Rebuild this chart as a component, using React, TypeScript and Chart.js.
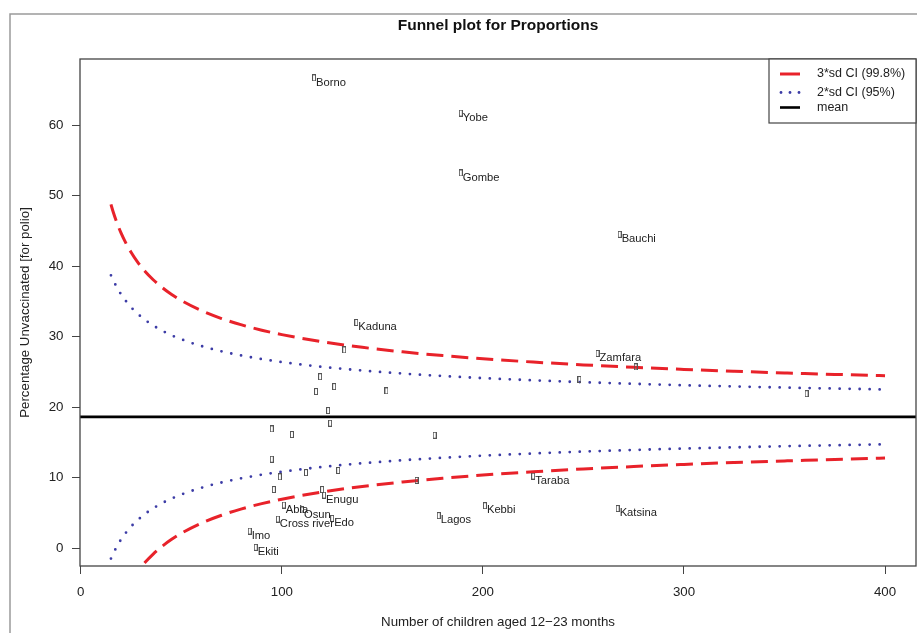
import { useEffect, useRef } from "react";
import { Chart, registerables } from "chart.js";

Chart.register(...registerables);

// ---- data ----
const stateNames = [
  "Borno", "Yobe", "Gombe", "Bauchi", "Kaduna", "Zamfara", "Taraba", "Katsina",
  "Kebbi", "Lagos", "Enugu", "Abia", "Osun", "Edo", "Cross river", "Imo", "Ekiti",
  "", "", "", "", "", "", "", "", "", "", "", "", "", "", "", "", "", "", "", "",
];
const childrenCounts = [
  116, 189, 189, 268, 137, 257, 225, 267,
  201, 178, 121, 101, 110, 125, 98, 84, 87,
  276, 248, 361, 131, 119, 126, 117, 152, 123, 124, 95, 105, 176, 95, 99, 112, 128, 96, 120, 167,
];
const unvaccinatedPct = [
  66.7, 61.7, 53.2, 44.5, 32.0, 27.6, 10.2, 5.6,
  6.0, 4.6, 7.5, 6.1, 5.4, 4.2, 4.1, 2.4, 0.1,
  25.7, 23.9, 21.9, 28.1, 24.3, 22.9, 22.2, 22.3, 19.5, 17.7, 16.9, 16.1, 16.0, 12.6, 10.1, 10.7, 11.0, 8.3, 8.3, 9.6,
];

const meanPct = 18.6;

const curveN = [15, 16, 18, 20, 22, 25, 28, 32, 36, 40, 45, 50, 60, 70, 80, 90, 100, 120, 140, 160, 180, 200, 225, 250, 275, 300, 325, 350, 375, 400];
const upper3sd = [48.74, 47.78, 46.11, 44.70, 43.49, 41.95, 40.66, 39.23, 38.06, 37.06, 36.00, 35.11, 33.67, 32.55, 31.65, 30.90, 30.27, 29.26, 28.47, 27.83, 27.30, 26.85, 26.38, 25.98, 25.64, 25.34, 25.07, 24.84, 24.63, 24.44];
const lower3sd = [-11.54, -10.58, -8.91, -7.50, -6.29, -4.75, -3.46, -2.03, -0.86, 0.14, 1.20, 2.09, 3.53, 4.65, 5.55, 6.30, 6.93, 7.94, 8.73, 9.37, 9.90, 10.35, 10.82, 11.22, 11.56, 11.86, 12.13, 12.36, 12.57, 12.76];
const upper2sd = [38.69, 38.06, 36.94, 36.00, 35.19, 34.16, 33.31, 32.36, 31.57, 30.90, 30.20, 29.61, 28.65, 27.90, 27.30, 26.80, 26.38, 25.70, 25.18, 24.75, 24.40, 24.10, 23.79, 23.52, 23.29, 23.09, 22.92, 22.76, 22.62, 22.49];
const lower2sd = [-1.49, -0.86, 0.26, 1.20, 2.01, 3.04, 3.89, 4.84, 5.63, 6.30, 7.00, 7.59, 8.55, 9.30, 9.90, 10.40, 10.82, 11.50, 12.02, 12.45, 12.80, 13.10, 13.41, 13.68, 13.91, 14.11, 14.28, 14.44, 14.58, 14.71];

const xTicks = [0, 100, 200, 300, 400];
const yTicks = [0, 10, 20, 30, 40, 50, 60];
const xLimits = [-0.4, 415.4];
const yLimits = [-2.55, 69.37];

const legendLabels = ["3*sd CI (99.8%)", "2*sd CI (95%)", "mean"];
const titleText = "Funnel plot for Proportions";
const xTitle = "Number of children aged 12\u221223 months";
const yTitle = "Percentage Unvaccinated [for polio]";

const FONT = '"Liberation Sans", Arial, Helvetica, sans-serif';
const RED = "#e8222a";
const BLUE = "#3c3ca6";

export default function App() {
  const ref = useRef<HTMLCanvasElement>(null);

  useEffect(() => {
    if (!ref.current) return;

    const box = document.createElement("canvas");
    box.width = 4;
    box.height = 7;
    const bctx = box.getContext("2d")!;
    bctx.strokeStyle = "#555";
    bctx.lineWidth = 1;
    bctx.strokeRect(0.5, 0.5, 3, 6);

    const toXY = (xs: number[], ys: number[]) => xs.map((x, i) => ({ x, y: ys[i] }));

    const decor = {
      id: "decor",
      beforeDraw(chart: any) {
        const { ctx, width, height } = chart;
        ctx.save();
        ctx.fillStyle = "#fff";
        ctx.fillRect(0, 0, width, height);
        ctx.strokeStyle = "#9a9a9a";
        ctx.lineWidth = 1.5;
        ctx.beginPath();
        ctx.moveTo(10, height + 5);
        ctx.lineTo(10, 14);
        ctx.lineTo(width + 5, 14);
        ctx.stroke();
        ctx.restore();
      },
      afterDatasetsDraw(chart: any) {
        const { ctx } = chart;
        const meta = chart.getDatasetMeta(0);
        ctx.save();
        ctx.font = `11.2px ${FONT}`;
        ctx.fillStyle = "#222";
        ctx.textAlign = "left";
        ctx.textBaseline = "middle";
        stateNames.forEach((name, i) => {
          if (!name) return;
          const el = meta.data[i];
          ctx.fillText(name, el.x + 2, el.y + 4.6);
        });
        ctx.restore();
      },
      afterDraw(chart: any) {
        const { ctx, chartArea: a } = chart;
        ctx.save();
        // plot box
        ctx.strokeStyle = "#444";
        ctx.lineWidth = 1.3;
        ctx.strokeRect(a.left, a.top, a.right - a.left, a.bottom - a.top);
        // title
        ctx.fillStyle = "#111";
        ctx.font = `bold 15.5px ${FONT}`;
        ctx.textAlign = "center";
        ctx.textBaseline = "middle";
        ctx.fillText(titleText, (a.left + a.right) / 2, 26);
        // legend
        const lx = 769;
        ctx.fillStyle = "#fff";
        ctx.fillRect(lx, a.top, a.right - lx, 64);
        ctx.strokeStyle = "#444";
        ctx.lineWidth = 1.2;
        ctx.strokeRect(lx, a.top, a.right - lx, 64);
        const rows = [a.top + 15, a.top + 33.5, a.top + 48.5];
        ctx.lineWidth = 3;
        ctx.strokeStyle = RED;
        ctx.beginPath();
        ctx.moveTo(780, rows[0]);
        ctx.lineTo(800, rows[0]);
        ctx.stroke();
        ctx.fillStyle = BLUE;
        [781, 790, 799].forEach((dx) => {
          ctx.beginPath();
          ctx.arc(dx, rows[1], 1.4, 0, Math.PI * 2);
          ctx.fill();
        });
        ctx.strokeStyle = "#000";
        ctx.lineWidth = 2.6;
        ctx.beginPath();
        ctx.moveTo(780, rows[2]);
        ctx.lineTo(800, rows[2]);
        ctx.stroke();
        ctx.fillStyle = "#222";
        ctx.font = `12.5px ${FONT}`;
        ctx.textAlign = "left";
        legendLabels.forEach((t, i) => ctx.fillText(t, 817, rows[i]));
        ctx.restore();
      },
    };

    const tickFont = { family: FONT, size: 13.3 };

    const chart = new Chart(ref.current, {
      type: "scatter",
      data: {
        datasets: [
          {
            label: "states",
            data: toXY(childrenCounts, unvaccinatedPct),
            pointStyle: box as any,
            pointRadius: 3,
            showLine: false,
          },
          {
            label: "mean",
            data: [
              { x: xLimits[0], y: meanPct },
              { x: xLimits[1], y: meanPct },
            ],
            showLine: true,
            borderColor: "#000",
            borderWidth: 2.6,
            pointRadius: 0,
          },
          {
            label: "upper 3sd",
            data: toXY(curveN, upper3sd),
            showLine: true,
            borderColor: RED,
            borderWidth: 3,
            borderDash: [17, 8],
            pointRadius: 0,
            cubicInterpolationMode: "monotone",
            clip: 0,
          },
          {
            label: "lower 3sd",
            data: toXY(curveN, lower3sd),
            showLine: true,
            borderColor: RED,
            borderWidth: 3,
            borderDash: [17, 8],
            pointRadius: 0,
            cubicInterpolationMode: "monotone",
            clip: 0,
          },
          {
            label: "upper 2sd",
            data: toXY(curveN, upper2sd),
            showLine: true,
            borderColor: BLUE,
            borderWidth: 2.8,
            borderDash: [0, 10],
            borderCapStyle: "round",
            pointRadius: 0,
            cubicInterpolationMode: "monotone",
            clip: 0,
          },
          {
            label: "lower 2sd",
            data: toXY(curveN, lower2sd),
            showLine: true,
            borderColor: BLUE,
            borderWidth: 2.8,
            borderDash: [0, 10],
            borderCapStyle: "round",
            pointRadius: 0,
            cubicInterpolationMode: "monotone",
            clip: 0,
          },
        ] as any,
      },
      options: {
        animation: false,
        responsive: false,
        devicePixelRatio: 1,
        layout: { autoPadding: false, padding: { top: 59, right: 1, left: 0, bottom: 0 } },
        plugins: { legend: { display: false }, tooltip: { enabled: false }, title: { display: false } },
        events: [],
        scales: {
          x: {
            type: "linear",
            min: xLimits[0],
            max: xLimits[1],
            afterBuildTicks: (s: any) => {
              s.ticks = xTicks.map((v) => ({ value: v }));
            },
            afterFit: (s: any) => {
              s.height = 67;
              s.paddingLeft = 0;
              s.paddingRight = 0;
            },
            grid: { drawOnChartArea: false, drawTicks: true, tickLength: 8, color: "#444", lineWidth: 1 },
            border: { display: false },
            ticks: { font: tickFont, color: "#222", padding: 10, maxRotation: 0, autoSkip: false },
            title: { display: true, text: xTitle, font: tickFont, color: "#222", padding: { top: 0, bottom: 3 } },
          },
          y: {
            type: "linear",
            min: yLimits[0],
            max: yLimits[1],
            afterBuildTicks: (s: any) => {
              s.ticks = yTicks.map((v) => ({ value: v }));
            },
            afterFit: (s: any) => {
              s.width = 80;
              s.paddingTop = 0;
              s.paddingBottom = 0;
            },
            grid: { drawOnChartArea: false, drawTicks: true, tickLength: 8, color: "#444", lineWidth: 1 },
            border: { display: false },
            ticks: { font: tickFont, color: "#222", padding: 8.5, autoSkip: false },
            title: { display: true, text: yTitle, font: tickFont, color: "#222", padding: { top: 17, bottom: 0 } },
          },
        },
      } as any,
      plugins: [decor],
    });

    return () => chart.destroy();
  }, []);

  return (
    <canvas
      ref={ref}
      width={917}
      height={633}
      style={{ position: "fixed", left: 0, top: 0, display: "block" }}
    />
  );
}
